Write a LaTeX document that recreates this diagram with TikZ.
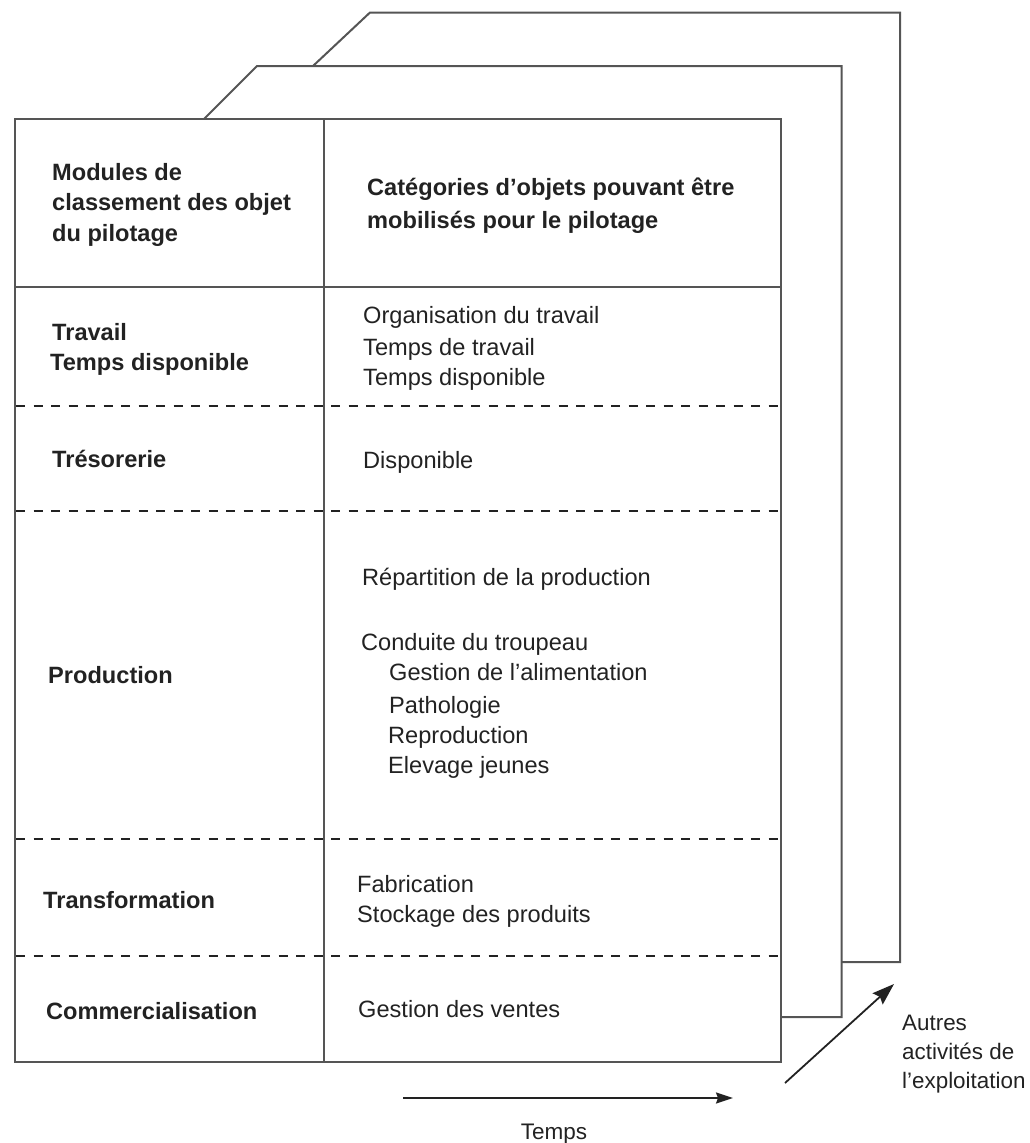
\documentclass[tikz,border=0pt]{standalone}
\usepackage{fontspec}
\setmainfont{Liberation Sans}
\usetikzlibrary{arrows.meta}
\definecolor{linegray}{HTML}{555555}
\definecolor{inkgray}{HTML}{222222}
\begin{document}
\begin{tikzpicture}[x=1pt,y=-1pt,
  page/.style={draw=linegray, line width=2pt},
  sepline/.style={draw=inkgray, line width=2.6pt, dash pattern=on 9pt off 8.5pt},
  hd/.style={font=\fontsize{23.6}{31}\selectfont\bfseries, text=inkgray, inner sep=0pt, anchor=base west},
  tx/.style={font=\fontsize{23.6}{31}\selectfont, text=inkgray, inner sep=0pt, anchor=base west},
  note/.style={font=\fontsize{22.4}{29}\selectfont, text=inkgray, inner sep=0pt, anchor=base west},
  arr/.style={draw=inkgray, line width=1.8pt}
]
\useasboundingbox (0,0) rectangle (1029,1143);

% back pages
\draw[page] (313,66) -- (370,12.5) -- (900,12.5) -- (900,962) -- (841.5,962);
\draw[page] (204,119) -- (257,66) -- (841.5,66) -- (841.5,1017) -- (780.5,1017);

% front page
\draw[page] (14.5,119) rectangle (780.5,1062);
\draw[page] (324,119) -- (324,1062);
\draw[page] (14.5,287) -- (780.5,287);

% dashed separators
\foreach \yy in {406,511,839,956}{
  \draw[sepline] (16,\yy) -- (780,\yy);
}

% header
\node[hd] (h1) at (52,180) {Modules de};
\node[hd] (h2) at (52,210) {classement des objet};
\node[hd] (h3) at (52,241) {du pilotage};
\node[hd] (c1) at (367,195) {Catégories d’objets pouvant être};
\node[hd] (c2) at (367,228) {mobilisés pour le pilotage};

% Travail
\node[hd] (m1a) at (52,340) {Travail};
\node[hd] (m1b) at (50,370) {Temps disponible};
\node[tx] (o1a) at (363,323) {Organisation du travail};
\node[tx] (o1b) at (363,355) {Temps de travail};
\node[tx] (o1c) at (363,385) {Temps disponible};

% Tresorerie
\node[hd] (m2) at (52,467) {Trésorerie};
\node[tx] (o2) at (363,468) {Disponible};

% Production
\node[hd] (m3) at (48,683) {Production};
\node[tx] (o3a) at (362,585) {Répartition de la production};
\node[tx] (o3b) at (361,650) {Conduite du troupeau};
\node[tx] (o3c) at (389,680) {Gestion de l’alimentation};
\node[tx] (o3d) at (389,713) {Pathologie};
\node[tx] (o3e) at (388,743) {Reproduction};
\node[tx] (o3f) at (388,773) {Elevage jeunes};

% Transformation
\node[hd] (m4) at (43,908) {Transformation};
\node[tx] (o4a) at (357,892) {Fabrication};
\node[tx] (o4b) at (357,922) {Stockage des produits};

% Commercialisation
\node[hd] (m5) at (46,1019) {Commercialisation};
\node[tx] (o5) at (358,1017) {Gestion des ventes};

% time arrow
\coordinate (t0) at (403,1098);
\coordinate (t1) at (733,1098);
\draw[arr, -{Stealth[length=17pt,width=11pt,inset=2pt]}] (t0) -- (t1);
\node[note, font=\fontsize{22.5}{29}\selectfont, anchor=base] (temps) at (554,1139) {Temps};

% other activities arrow
\coordinate (a0) at (785,1083);
\coordinate (a1) at (894,984);
\draw[arr, -{Stealth[length=22pt,width=15pt,inset=3pt]}] (a0) -- (a1);
\node[note] (n1) at (902,1030) {Autres};
\node[note] (n2) at (902,1059) {activités de};
\node[note] (n3) at (902,1088) {l’exploitation};
\end{tikzpicture}
\end{document}
